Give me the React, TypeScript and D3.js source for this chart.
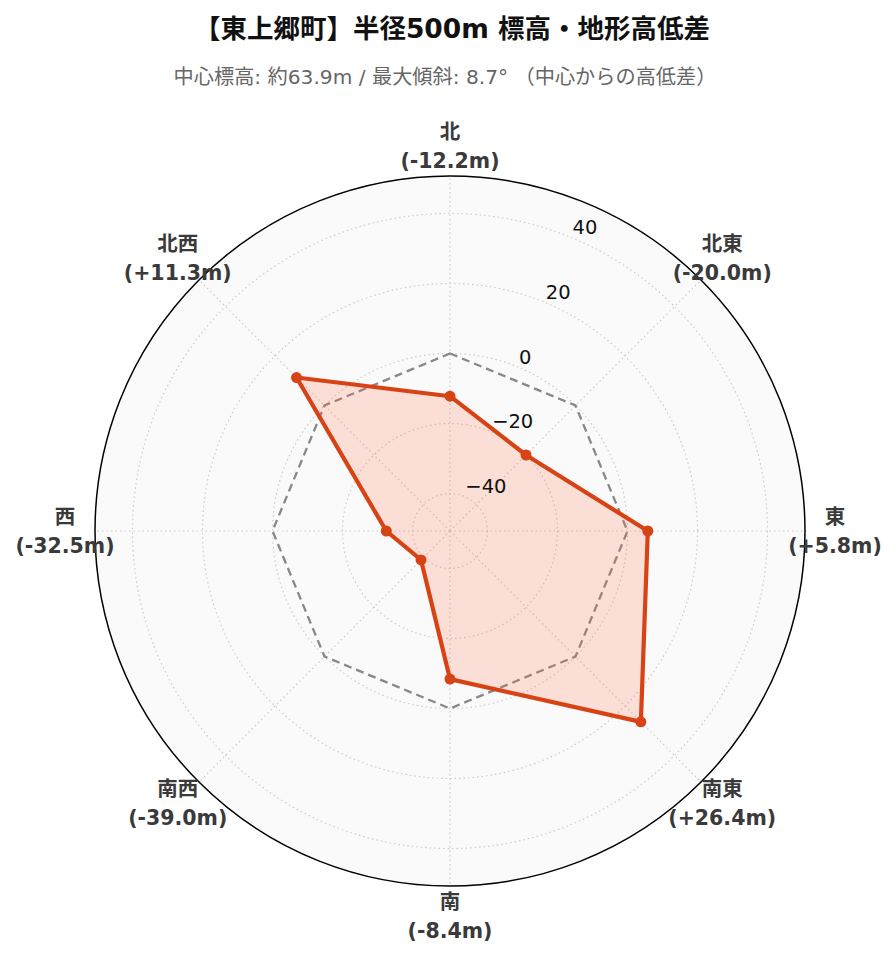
import React from "react";
import * as d3 from "d3";

const directions = ["北", "北東", "東", "南東", "南", "南西", "西", "北西"];
const values = [-12.2, -20.0, 5.8, 26.4, -8.4, -39.0, -32.5, 11.3];
const radialTicks = [-40, -20, 0, 20, 40];
const titleText = "【東上郷町】半径500m 標高・地形高低差";
const subtitleText = "中心標高: 約63.9m / 最大傾斜: 8.7° （中心からの高低差）";

const W = 896;
const H = 962;
const cx = 450;
const cy = 531;
const R = 355;
const FONT = "'DejaVu Sans', 'Noto Sans CJK JP', sans-serif";

export default function App() {
  const maxAbs = d3.max(values, (v) => Math.abs(v)) as number;
  const lim = maxAbs * 1.3;
  const r = d3.scaleLinear().domain([-lim, lim]).range([0, R]);
  const angle = d3
    .scaleLinear()
    .domain([0, directions.length])
    .range([0, 2 * Math.PI]);

  const pt = (i: number, rad: number): [number, number] => {
    const a = angle(i);
    return [cx + rad * Math.sin(a), cy - rad * Math.cos(a)];
  };

  const line = d3
    .lineRadial<number>()
    .angle((_, i) => angle(i))
    .radius((v) => r(v))
    .curve(d3.curveLinearClosed);

  const refVals = values.map(() => 0);
  const labelR = R + 30;
  const tickAng = (22.5 * Math.PI) / 180;

  const fmt = (v: number) => `(${v >= 0 ? "+" : "-"}${Math.abs(v).toFixed(1)}m)`;

  return (
    <svg width={W} height={H} style={{ display: "block", margin: "-8px" }}>
      <rect width={W} height={H} fill="#ffffff" />
      <text
        x={452}
        y={28}
        textAnchor="middle"
        dominantBaseline="central"
        fontFamily={FONT}
        fontWeight="bold"
        fontSize={26.5}
        fill="#111"
      >
        {titleText}
      </text>
      <text
        x={445}
        y={77}
        textAnchor="middle"
        dominantBaseline="central"
        fontFamily={FONT}
        fontSize={20.2}
        fill="#666"
      >
        {subtitleText}
      </text>

      <circle cx={cx} cy={cy} r={R} fill="#fafafa" />
      {radialTicks.map((t) => (
        <circle
          key={"g" + t}
          cx={cx}
          cy={cy}
          r={r(t)}
          fill="none"
          stroke="#cccccc"
          strokeWidth={1.2}
          strokeDasharray="1.5,3"
        />
      ))}
      {directions.map((d, i) => {
        const [x, y] = pt(i, R);
        return (
          <line
            key={"s" + d}
            x1={cx}
            y1={cy}
            x2={x}
            y2={y}
            stroke="#cccccc"
            strokeWidth={1.2}
            strokeDasharray="1.5,3"
          />
        );
      })}

      <g transform={`translate(${cx},${cy})`}>
        <path
          d={line(refVals) || ""}
          fill="none"
          stroke="#888888"
          strokeWidth={2.3}
          strokeDasharray="8,5"
        />
        <path d={line(values) || ""} fill="#ff7043" fillOpacity={0.2} stroke="none" />
        <path
          d={line(values) || ""}
          fill="none"
          stroke="#d84315"
          strokeWidth={4.2}
          strokeLinejoin="round"
        />
      </g>
      {values.map((v, i) => {
        const [x, y] = pt(i, r(v));
        return <circle key={"m" + i} cx={x} cy={y} r={5.5} fill="#d84315" />;
      })}

      <circle cx={cx} cy={cy} r={R} fill="none" stroke="#000" strokeWidth={1.5} />

      {radialTicks.map((t) => {
        const ax = cx + r(t) * Math.sin(tickAng);
        const ay = cy - r(t) * Math.cos(tickAng);
        return (
          <text
            key={"t" + t}
            x={ax + 1}
            y={ay - 10}
            dominantBaseline="central"
            fontFamily={FONT}
            fontSize={19.5}
            fill="#111"
          >
            {t < 0 ? "\u2212" + Math.abs(t) : String(t)}
          </text>
        );
      })}

      {directions.map((d, i) => {
        const [x, y] = pt(i, labelR);
        return (
          <g key={"l" + d}>
            <text
              x={x}
              y={y - 14.5}
              textAnchor="middle"
              dominantBaseline="central"
              fontFamily={FONT}
              fontWeight="bold"
              fontSize={20.5}
              fill="#3a3a3a"
            >
              {d}
            </text>
            <text
              x={x}
              y={y + 14.5}
              textAnchor="middle"
              dominantBaseline="central"
              fontFamily={FONT}
              fontWeight="bold"
              fontSize={20.5}
              fill="#3a3a3a"
            >
              {fmt(values[i])}
            </text>
          </g>
        );
      })}
    </svg>
  );
}
